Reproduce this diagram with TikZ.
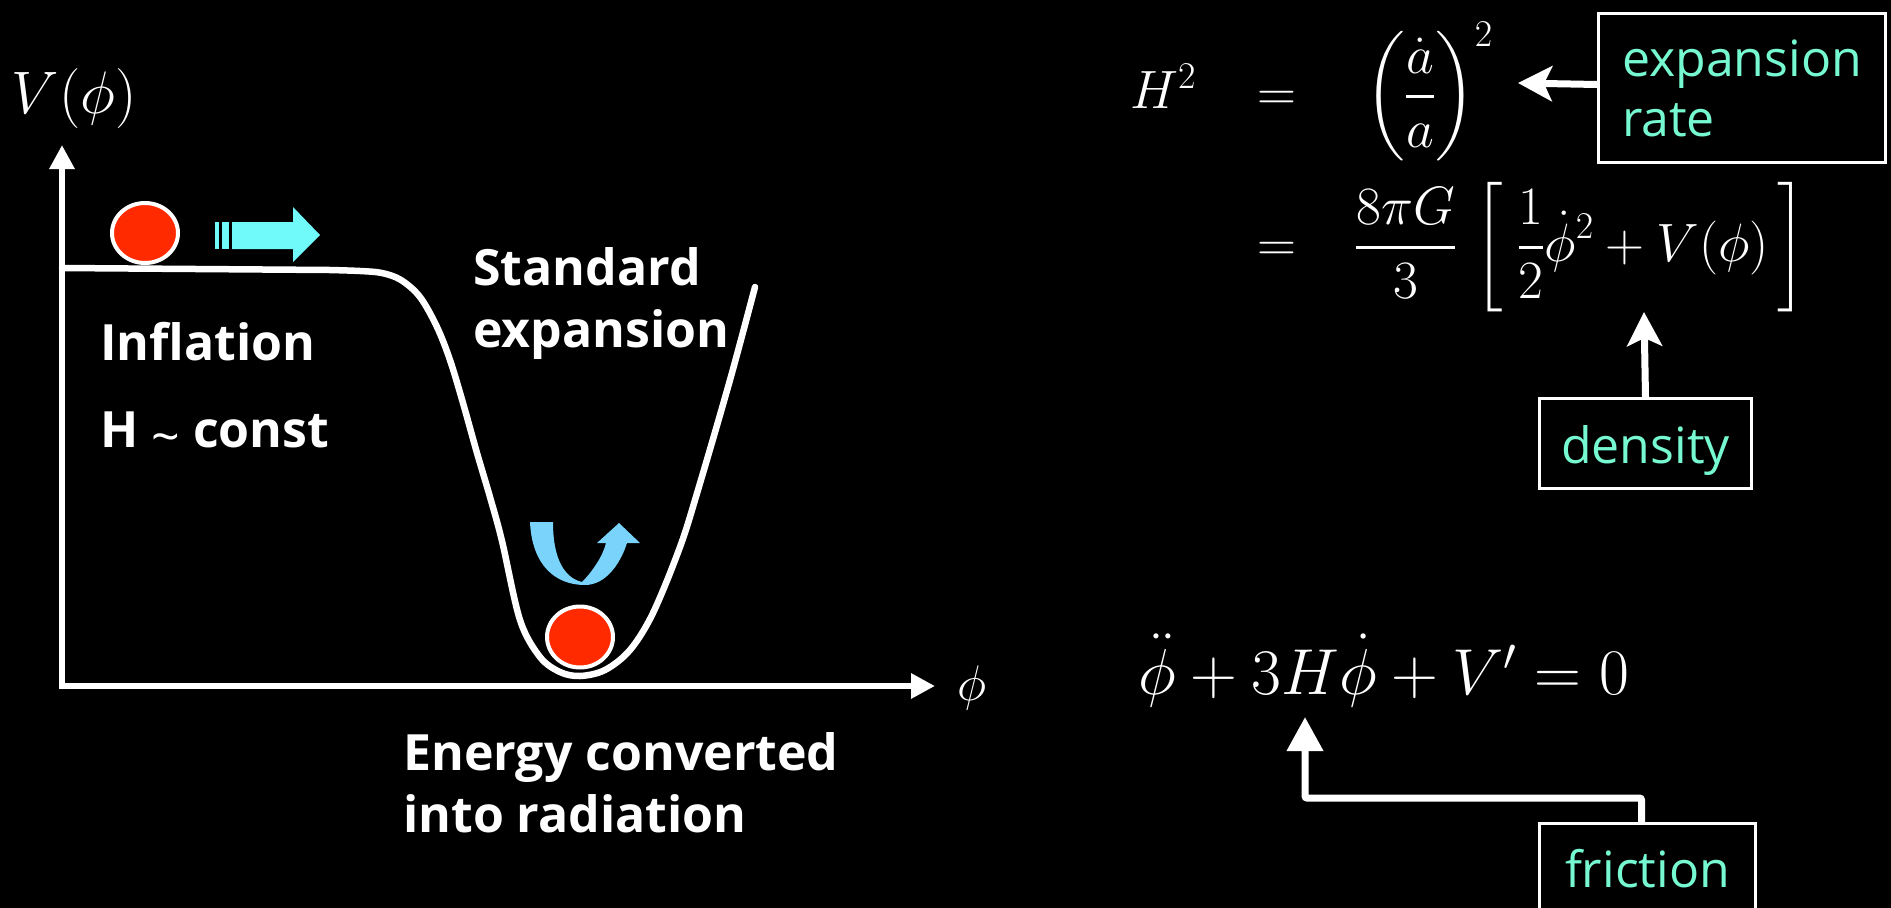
\RequirePackage{fix-cm}
\documentclass[tikz,border=0pt]{standalone}
\usepackage{amsmath}
\usepackage[no-math]{fontspec}
\setmainfont{Open Sans}
\DeclareFontFamily{OMX}{cmex}{}
\DeclareFontShape{OMX}{cmex}{m}{n}{<-> cmex10}{}
\usetikzlibrary{arrows.meta}
\definecolor{ballred}{RGB}{255,42,0}
\definecolor{arrcyan}{RGB}{112,250,250}
\definecolor{arrblue}{RGB}{122,211,250}
\definecolor{lbltext}{RGB}{118,248,208}
\begin{document}
\begin{tikzpicture}[x=1pt,y=-1pt,
  curve/.style={white, line width=6.5pt, line cap=round, line join=round},
  axisline/.style={white, line width=6pt, line join=miter},
  callout/.style={white, line width=7pt, -{Stealth[length=34pt,width=35pt,inset=8pt]}},
  calloutb/.style={white, line width=7pt, -{Triangle[length=34pt,width=35pt]}},
  lblbox/.style={draw=white, line width=3pt, fill=black, text=lbltext, font=\fontsize{50}{60}\selectfont, inner sep=0pt},
  boldtxt/.style={text=white, font=\bfseries\fontsize{50}{62}\selectfont, inner sep=0pt},
  ball/.style={fill=ballred, draw=white, line width=4pt},
  mathtxt/.style={text=white, inner sep=0pt}
]
\useasboundingbox (0,0) rectangle (1891,908);
\fill[black] (0,0) rectangle (1891,908);
\clip (0,0) rectangle (1891,908);

% axes
\coordinate (O) at (62,686);
\coordinate (ytip) at (62,145);
\coordinate (xtip) at (935,686);
\draw[axisline, {Triangle[length=24pt,width=24pt]}-{Triangle[length=24pt,width=24pt]}] (ytip) -- (O) -- (xtip);

% potential
\draw[curve] (62,268) -- (330,270) -- plot[smooth, tension=0.55] coordinates {(330,270) (360,271) (382,273) (401,280) (420,297) (437,327) (450,360) (463,403) (477,453) (490,497) (502,541) (520,620) (540,657) (560,672) (580,676) (605,670) (630,650) (653,613) (680,547) (698,490) (730,380) (755,287)};

% balls
\draw[ball] (145,233) ellipse [x radius=33, y radius=30];
\draw[ball] (580,637) ellipse [x radius=33, y radius=30.5];

% cyan arrow
\fill[arrcyan] (215,222) rectangle (218.5,249);
\fill[arrcyan] (222,222) rectangle (228.5,249);
\fill[arrcyan] (232,222) -- (293,222) -- (293,207) -- (320,235) -- (293,262) -- (293,249) -- (232,249) -- cycle;

% blue U arrow
\fill[arrblue] (530,522) -- (553,522) .. controls (553,560) and (565,578) .. (582,582)
  .. controls (592,572) and (603,556) .. (606,543) -- (597,543) -- (619,523) -- (640,543) -- (627,543)
  .. controls (620,565) and (605,585) .. (585,585) .. controls (555,585) and (532,565) .. (530,522) -- cycle;

% left texts
\node[mathtxt, font=\fontsize{60}{72}\selectfont] (vphi) at (74,98) {$V(\phi)$};
\node[mathtxt, font=\fontsize{50}{60}\selectfont] (phix) at (972,688) {$\phi$};
\node[boldtxt, anchor=base west] (infl) at (100,360) {Inflation};
\node[boldtxt, anchor=base west] (hconst) at (100,447) {H \raisebox{-7pt}{\mdseries\textasciitilde} const};
\node[boldtxt, anchor=base west] (stdexp) at (473,285) {\begin{tabular}[t]{@{}l@{}}Standard\\expansion\end{tabular}};
\node[boldtxt, anchor=base west] (energy) at (403,770) {\begin{tabular}[t]{@{}l@{}}Energy converted\\into radiation\end{tabular}};

% equations
\node[mathtxt, font=\fontsize{54}{65}\selectfont, anchor=base west] (h2) at (1130,108) {$H^2$};
\node[mathtxt, font=\fontsize{54}{65}\selectfont, anchor=base] (eqa) at (1277,110) {$=$};
\node[mathtxt, font=\fontsize{54}{65}\selectfont, anchor=base west] (rhsa) at (1365,110) {$\displaystyle\left(\frac{\dot a}{a}\right)^{2}$};
\node[mathtxt, font=\fontsize{54}{65}\selectfont, anchor=base] (eqb) at (1277,261) {$=$};
\node[mathtxt, font=\fontsize{54}{65}\selectfont, anchor=base west] (rhsb) at (1355,261) {$\displaystyle\frac{8\pi G}{3}\,\left[\;\frac{1}{2}\dot\phi^{2}+V(\phi)\,\right]$};
\node[mathtxt, font=\fontsize{65}{78}\selectfont, anchor=base west] (feq) at (1138,694) {$\ddot\phi+3H\dot\phi+V'=0$};

% label boxes
\node[lblbox, minimum width=287pt, minimum height=149pt, text height=40pt, text depth=63pt, anchor=north west] (exprate) at (1597,12) {\begin{tabular}[t]{@{}l@{}}expansion\\rate\end{tabular}};
\node[lblbox, minimum width=212pt, minimum height=90pt, text height=52pt, text depth=12pt, anchor=north west] (density) at (1538,397) {density};
\node[lblbox, minimum width=216pt, minimum height=90pt, text height=38pt, text depth=0pt, anchor=north west] (friction) at (1538,822) {friction};

% connectors
\coordinate (exptip) at (1518,83);
\coordinate (denstip) at (1644,312);
\coordinate (frictip) at (1305,717);
\draw[callout] ([yshift=3.5pt]exprate.west) -- (exptip);
\draw[callout] (density.north) -- (denstip);
\draw[calloutb, rounded corners=2pt] ([xshift=-6pt]friction.north) -- ++(0,-24) -| (frictip);
\end{tikzpicture}
\end{document}
